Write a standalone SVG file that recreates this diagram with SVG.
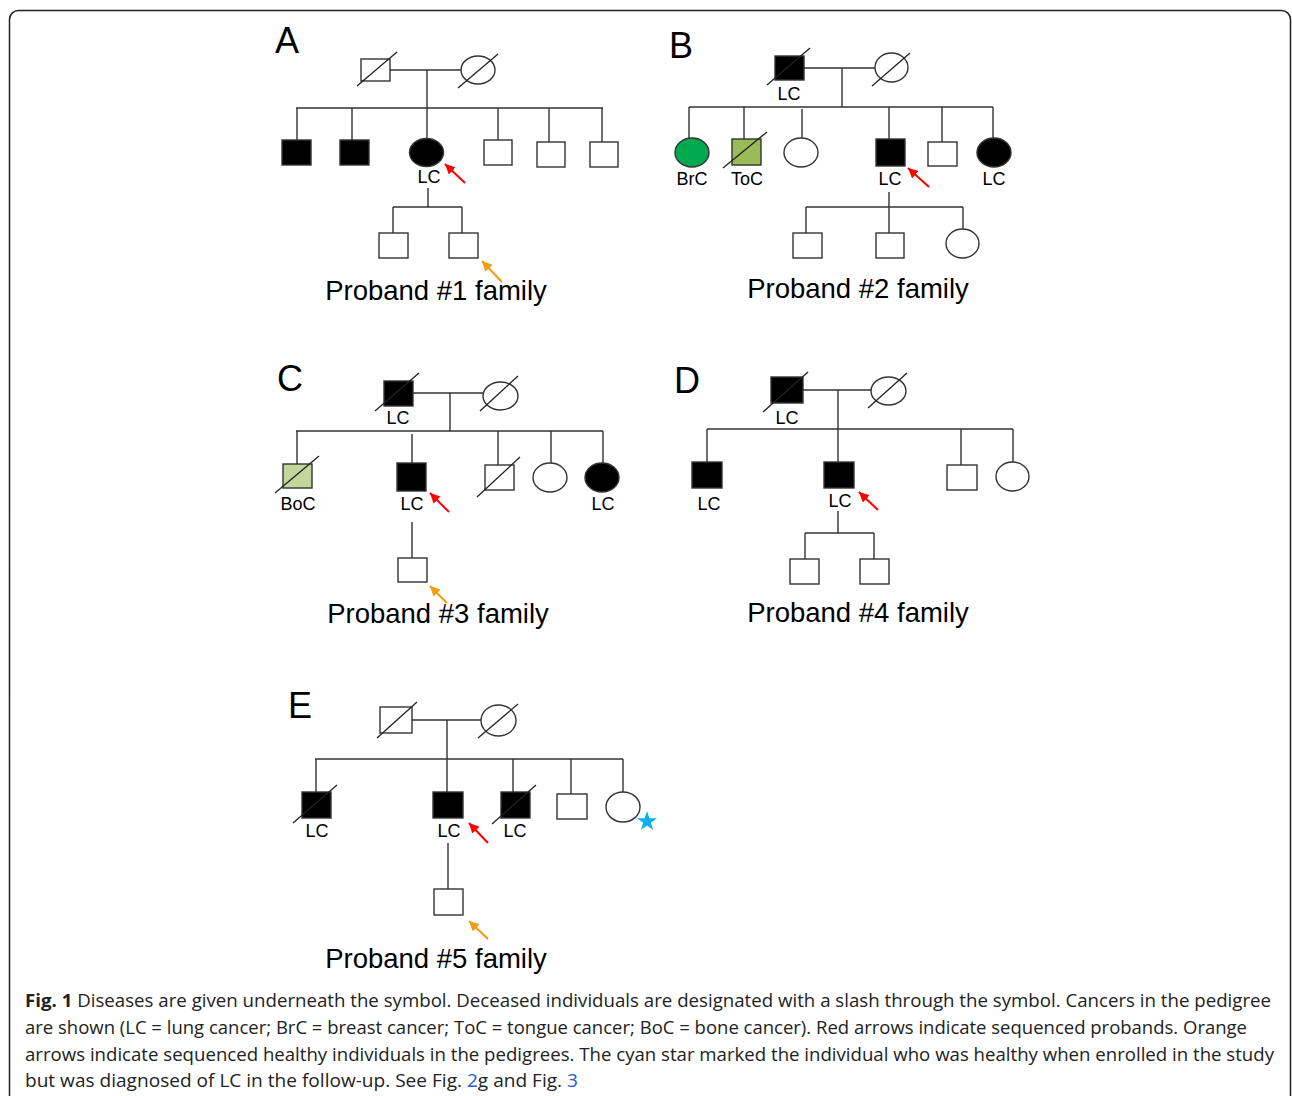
<svg xmlns="http://www.w3.org/2000/svg" width="1292" height="1096" viewBox="0 0 1292 1096">
<style>
.ln{stroke:#333;stroke-width:1.4;fill:none}
.sym{stroke:#333;stroke-width:1.4}
.open{fill:#fff}
.aff{fill:#000}
.sl{stroke:#222;stroke-width:1.3;fill:none}
.t{font-family:"Liberation Sans",Arial,sans-serif;fill:#000}
.lbl{font-size:18px;text-anchor:middle}
.ttl{font-size:27.5px;text-anchor:middle}
.pl{font-size:36px}
.cap{font-family:"Open Sans","Noto Sans",sans-serif;font-size:17.5px;fill:#222}
.red{stroke:#f00;stroke-width:2;fill:none}
.org{stroke:#f29b0e;stroke-width:2;fill:none}
</style>
<defs>
<marker id="hr" markerUnits="userSpaceOnUse" markerWidth="12" markerHeight="10" refX="10" refY="5" orient="auto"><path d="M0,0 L10,5 L0,10 z" fill="#f00"/></marker>
<marker id="ho" markerUnits="userSpaceOnUse" markerWidth="12" markerHeight="10" refX="10" refY="5" orient="auto"><path d="M0,0 L10,5 L0,10 z" fill="#f29b0e"/></marker>
</defs>
<rect x="0" y="0" width="1292" height="1096" fill="#fff"/>
<rect x="9.5" y="10.5" width="1281" height="1110" rx="9" fill="none" stroke="#222" stroke-width="1.5"/>

<g id="connectors">
<path class="ln" d="M390 70H461M427 70V108M296 108H603M297 108V140M352 108V140M427 108V138M498 108V140M549 108V142M602 108V142M428 188V207M393 207H462M393 207V233M462 207V233"/>
<path class="ln" d="M804 68H875M842 68V107M689 107H993M689 107V138M744 107V139M802 109V138M889 107V139M942 107V142M993 107V138M889 192V233M806 207H963M806 207V233M963 207V229"/>
<path class="ln" d="M413 393H483M450 393V431M296 431H603M297 431V464M412 434V463M498 431V465M551 431V463M603 431V463M412 522V558"/>
<path class="ln" d="M803 390H871M838 390V462M707 429H1013M707 429V462M961 429V465M1013 429V462M838 511V533M805 533H874M805 533V559M874 533V559"/>
<path class="ln" d="M412 720H481M447 720V792M315 759H623M316 759V792M513 759V792M571 759V794M623 759V792M448 843V889"/>
</g>

<g id="panelA">
<text class="t pl" x="275" y="53">A</text>
<g id="A_father"><rect class="sym open" x="361" y="59" width="29" height="22"/><line class="sl" x1="357" y1="86" x2="397" y2="52"/></g>
<g id="A_mother"><ellipse class="sym open" cx="478" cy="70" rx="17" ry="14"/><line class="sl" x1="458" y1="88" x2="498" y2="54"/></g>
<g id="A_c1"><rect class="sym aff" x="282" y="140" width="29" height="25"/></g>
<g id="A_c2"><rect class="sym aff" x="340" y="140" width="29" height="25"/></g>
<g id="A_proband"><ellipse class="sym aff" cx="426.5" cy="152.5" rx="17" ry="14"/><text class="t lbl" x="429" y="183">LC</text><line class="red" x1="465" y1="183" x2="445" y2="164" marker-end="url(#hr)"/></g>
<g id="A_c4"><rect class="sym open" x="484" y="140" width="28" height="25"/></g>
<g id="A_c5"><rect class="sym open" x="537" y="142" width="28" height="25"/></g>
<g id="A_c6"><rect class="sym open" x="590" y="142" width="28" height="25"/></g>
<g id="A_g1"><rect class="sym open" x="379" y="233" width="29" height="25"/></g>
<g id="A_g2"><rect class="sym open" x="449" y="233" width="29" height="25"/><line class="org" x1="502" y1="282" x2="482" y2="261" marker-end="url(#ho)"/></g>
<text class="t ttl" x="436" y="300">Proband #1 family</text>
</g>

<g id="panelB">
<text class="t pl" x="669" y="58">B</text>
<g id="B_father"><rect class="sym aff" x="775" y="56" width="29" height="24"/><line class="sl" x1="767" y1="85" x2="810" y2="48"/><text class="t lbl" x="789" y="100">LC</text></g>
<g id="B_mother"><ellipse class="sym open" cx="891.5" cy="67.5" rx="16.5" ry="14.5"/><line class="sl" x1="872" y1="86" x2="910" y2="53"/></g>
<g id="B_c1"><ellipse class="sym" fill="#00a84f" cx="692" cy="152.5" rx="17" ry="14.5"/><text class="t lbl" x="692" y="185">BrC</text></g>
<g id="B_c2"><rect class="sym" fill="#9bbb59" x="732" y="139" width="29" height="26"/><line class="sl" x1="723" y1="168" x2="767" y2="132"/><text class="t lbl" x="747" y="185">ToC</text></g>
<g id="B_c3"><ellipse class="sym open" cx="801" cy="152.5" rx="17" ry="14.5"/></g>
<g id="B_proband"><rect class="sym aff" x="876" y="139" width="29" height="27"/><text class="t lbl" x="890" y="185">LC</text><line class="red" x1="929" y1="187" x2="908" y2="168" marker-end="url(#hr)"/></g>
<g id="B_c5"><rect class="sym open" x="928" y="142" width="29" height="24"/></g>
<g id="B_c6"><ellipse class="sym aff" cx="994" cy="152.5" rx="17" ry="14.5"/><text class="t lbl" x="994" y="185">LC</text></g>
<g id="B_g1"><rect class="sym open" x="793" y="233" width="29" height="25"/></g>
<g id="B_g2"><rect class="sym open" x="876" y="233" width="28" height="25"/></g>
<g id="B_g3"><ellipse class="sym open" cx="962.5" cy="243.5" rx="16.5" ry="14.5"/></g>
<text class="t ttl" x="858" y="298">Proband #2 family</text>
</g>

<g id="panelC">
<text class="t pl" x="277" y="391">C</text>
<g id="C_father"><rect class="sym aff" x="384" y="381" width="29" height="25"/><line class="sl" x1="375" y1="411" x2="419" y2="373"/><text class="t lbl" x="398" y="424">LC</text></g>
<g id="C_mother"><ellipse class="sym open" cx="500.5" cy="396" rx="17.5" ry="14"/><line class="sl" x1="480" y1="411" x2="518" y2="376"/></g>
<g id="C_c1"><rect class="sym" fill="#c3d69b" x="283" y="464" width="29" height="24"/><line class="sl" x1="275" y1="493" x2="319" y2="456"/><text class="t lbl" x="298" y="510">BoC</text></g>
<g id="C_proband"><rect class="sym aff" x="397" y="463" width="29" height="28"/><text class="t lbl" x="412" y="510">LC</text><line class="red" x1="449" y1="512" x2="430" y2="493" marker-end="url(#hr)"/></g>
<g id="C_c3"><rect class="sym open" x="485" y="465" width="29" height="25"/><line class="sl" x1="477" y1="497" x2="520" y2="457"/></g>
<g id="C_c4"><ellipse class="sym open" cx="550" cy="477.5" rx="17" ry="14.5"/></g>
<g id="C_c5"><ellipse class="sym aff" cx="602" cy="477.5" rx="17" ry="14.5"/><text class="t lbl" x="603" y="510">LC</text></g>
<g id="C_g1"><rect class="sym open" x="398" y="558" width="29" height="24"/><line class="org" x1="447" y1="603" x2="430" y2="586" marker-end="url(#ho)"/></g>
<text class="t ttl" x="438" y="623">Proband #3 family</text>
</g>

<g id="panelD">
<text class="t pl" x="674" y="393">D</text>
<g id="D_father"><rect class="sym aff" x="771" y="377" width="32" height="26"/><line class="sl" x1="763" y1="412" x2="808" y2="372"/><text class="t lbl" x="787" y="424">LC</text></g>
<g id="D_mother"><ellipse class="sym open" cx="888.5" cy="391" rx="17.5" ry="14"/><line class="sl" x1="868" y1="408" x2="907" y2="373"/></g>
<g id="D_c1"><rect class="sym aff" x="692" y="462" width="30" height="26"/><text class="t lbl" x="709" y="510">LC</text></g>
<g id="D_proband"><rect class="sym aff" x="824" y="462" width="30" height="26"/><text class="t lbl" x="840" y="507">LC</text><line class="red" x1="878" y1="510" x2="859" y2="492" marker-end="url(#hr)"/></g>
<g id="D_c3"><rect class="sym open" x="947" y="465" width="30" height="25"/></g>
<g id="D_c4"><ellipse class="sym open" cx="1012.5" cy="476.5" rx="16.5" ry="14.5"/></g>
<g id="D_g1"><rect class="sym open" x="790" y="559" width="29" height="25"/></g>
<g id="D_g2"><rect class="sym open" x="860" y="559" width="29" height="25"/></g>
<text class="t ttl" x="858" y="622">Proband #4 family</text>
</g>

<g id="panelE">
<text class="t pl" x="288" y="718">E</text>
<g id="E_father"><rect class="sym open" x="380" y="707" width="32" height="26"/><line class="sl" x1="377" y1="738" x2="417" y2="702"/></g>
<g id="E_mother"><ellipse class="sym open" cx="498.5" cy="720.5" rx="17.5" ry="15.5"/><line class="sl" x1="478" y1="738" x2="518" y2="704"/></g>
<g id="E_c1"><rect class="sym aff" x="302" y="792" width="29" height="26"/><line class="sl" x1="293" y1="823" x2="337" y2="785"/><text class="t lbl" x="317" y="837">LC</text></g>
<g id="E_proband"><rect class="sym aff" x="433" y="792" width="30" height="26"/><text class="t lbl" x="449" y="837">LC</text><line class="red" x1="488" y1="843" x2="469" y2="823" marker-end="url(#hr)"/></g>
<g id="E_c3"><rect class="sym aff" x="501" y="792" width="29" height="26"/><line class="sl" x1="492" y1="824" x2="536" y2="785"/><text class="t lbl" x="515" y="837">LC</text></g>
<g id="E_c4"><rect class="sym open" x="557" y="794" width="30" height="25"/></g>
<g id="E_c5"><ellipse class="sym open" cx="623" cy="807" rx="17" ry="15"/><path fill="#0bb0ee" d="M647 811 L649.4 818.2 L657 818.2 L650.8 822.7 L653.2 830 L647 825.5 L640.8 830 L643.2 822.7 L637 818.2 L644.6 818.2 Z"/></g>
<g id="E_g1"><rect class="sym open" x="434" y="889" width="29" height="26"/><line class="org" x1="488" y1="939" x2="469" y2="921" marker-end="url(#ho)"/></g>
<text class="t ttl" x="436" y="968">Proband #5 family</text>
</g>

<g id="caption" class="cap">
<text x="25" y="1007" textLength="1246" lengthAdjust="spacingAndGlyphs"><tspan font-weight="bold">Fig. 1</tspan> Diseases are given underneath the symbol. Deceased individuals are designated with a slash through the symbol. Cancers in the pedigree</text>
<text x="25" y="1034" textLength="1222" lengthAdjust="spacingAndGlyphs">are shown (LC = lung cancer; BrC = breast cancer; ToC = tongue cancer; BoC = bone cancer). Red arrows indicate sequenced probands. Orange</text>
<text x="25" y="1061" textLength="1249" lengthAdjust="spacingAndGlyphs">arrows indicate sequenced healthy individuals in the pedigrees. The cyan star marked the individual who was healthy when enrolled in the study</text>
<text x="25" y="1087" textLength="553" lengthAdjust="spacingAndGlyphs">but was diagnosed of LC in the follow-up. See Fig. <tspan fill="#2a5bd7">2</tspan>g and Fig. <tspan fill="#2a5bd7">3</tspan></text>
</g>
</svg>
